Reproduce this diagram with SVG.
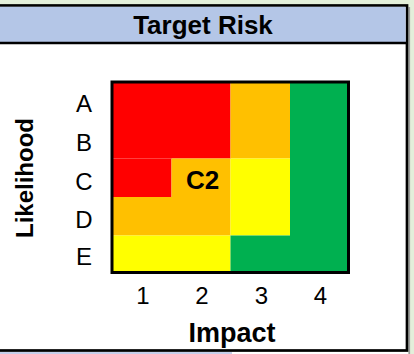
<svg xmlns="http://www.w3.org/2000/svg" width="414" height="354" viewBox="0 0 414 354">
<style>
.t{font-family:"Liberation Sans",Arial,sans-serif;fill:#000}
.b{font-weight:bold}
.lbl{font-size:24px;text-anchor:middle}
.red{fill:#FF0000}.org{fill:#FFC000}.yel{fill:#FFFF00}.grn{fill:#00B050}
</style>
<rect x="0" y="0" width="414" height="354" fill="#E3EFDA"/>
<rect x="0" y="352" width="232" height="2" fill="#C5CFEA"/>
<rect x="232" y="352" width="176" height="2" fill="#FFFFFF"/>
<rect x="408.5" y="7" width="1.6" height="347" fill="#9A9A9A"/>
<g id="frame">
<rect x="-3" y="5.5" width="410" height="345" fill="#FFFFFF" stroke="#000" stroke-width="2.7"/>
<rect x="-3" y="6.8" width="408.6" height="35.5" fill="#B4C6E7"/>
<line x1="-3" y1="43" x2="407" y2="43" stroke="#000" stroke-width="2.7"/>
<text id="title" class="t b" x="203" y="33.5" font-size="26" text-anchor="middle">Target Risk</text>
</g>
<g id="matrix">
<rect class="red" x="112" y="82" width="118.5" height="76.5"/>
<rect class="red" x="112" y="158.5" width="59.5" height="38.5"/>
<rect class="org" x="230.5" y="82" width="59.5" height="76.5"/>
<rect class="org" x="171.5" y="158.5" width="59" height="38.5"/>
<rect class="org" x="112" y="197" width="118.5" height="38.5"/>
<rect class="yel" x="230.5" y="158.5" width="59.5" height="77"/>
<rect class="yel" x="112" y="235.5" width="118.5" height="37"/>
<rect class="grn" x="290" y="82" width="58.5" height="190.5"/>
<rect class="grn" x="230.5" y="235.5" width="59.5" height="37"/>
<rect x="112" y="82" width="236.5" height="190.5" fill="none" stroke="#000" stroke-width="3"/>
<text class="t b" x="202.5" y="189" font-size="26" text-anchor="middle">C2</text>
</g>
<g id="likelihood-axis">
<text class="t lbl" x="84" y="111.5">A</text>
<text class="t lbl" x="84" y="151">B</text>
<text class="t lbl" x="84" y="189.5">C</text>
<text class="t lbl" x="84" y="228">D</text>
<text class="t lbl" x="84" y="265">E</text>
<text class="t b" x="0" y="0" font-size="24" text-anchor="middle" transform="translate(33 178) rotate(-90)">Likelihood</text>
</g>
<g id="impact-axis">
<text class="t lbl" x="143" y="304">1</text>
<text class="t lbl" x="202" y="304">2</text>
<text class="t lbl" x="261.5" y="304">3</text>
<text class="t lbl" x="320.5" y="304">4</text>
<text class="t b" x="232" y="341.5" font-size="27" text-anchor="middle">Impact</text>
</g>
<g id="connectors"/>
</svg>
